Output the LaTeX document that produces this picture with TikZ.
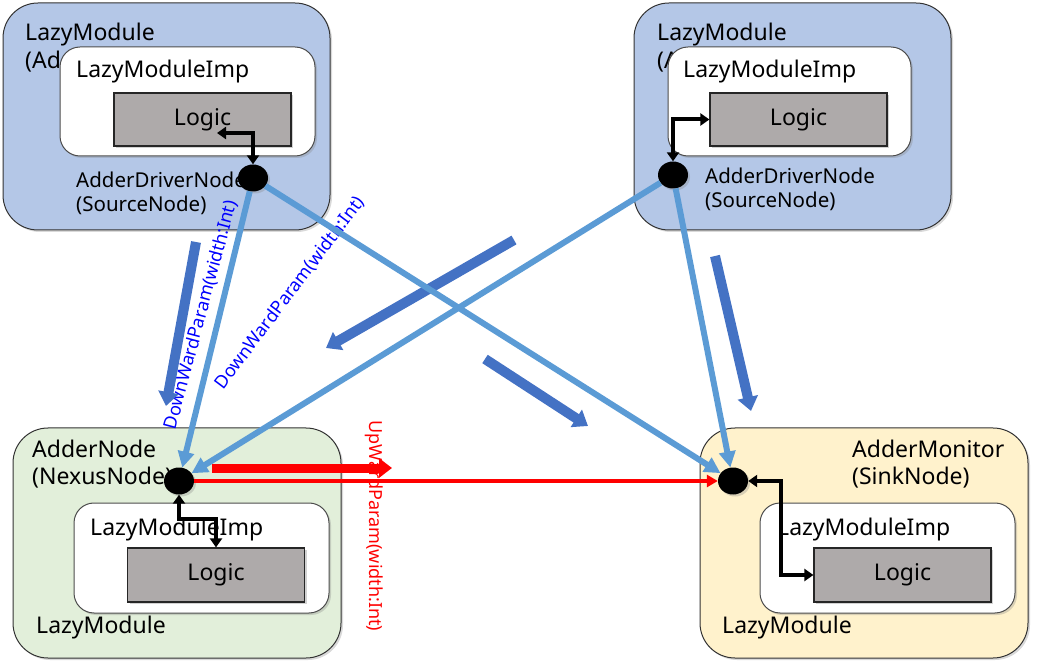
\documentclass[tikz,border=0pt]{standalone}
\usepackage{fontspec}
\setmainfont{Noto Sans}
\usetikzlibrary{arrows.meta,shadows,shapes.geometric}
\definecolor{topblue}{HTML}{B4C7E7}
\definecolor{nexgreen}{HTML}{E2EFDA}
\definecolor{sinkyellow}{HTML}{FFF2CC}
\definecolor{logicgray}{HTML}{AEAAAA}
\definecolor{linkblue}{HTML}{5B9BD5}
\definecolor{flowblue}{HTML}{4472C4}

\begin{document}
\begin{tikzpicture}[x=1pt,y=-1pt,
  module/.style={draw=black!80,line width=1pt,rounded corners=35pt,
    drop shadow={shadow xshift=2pt,shadow yshift=-2pt,opacity=.3}},
  impbox/.style={draw=black!70,fill=white,line width=1pt,rounded corners=20pt,
    drop shadow={shadow xshift=2pt,shadow yshift=-2pt,opacity=.3}},
  logicbox/.style={draw=black!85,fill=logicgray,line width=1.2pt,minimum width=177pt,
    minimum height=53pt,inner sep=0pt,font=\fontsize{23}{27}\selectfont,
    drop shadow={shadow xshift=2pt,shadow yshift=-2pt,opacity=.35}},
  port/.style={ellipse,fill=black,minimum width=30pt,minimum height=27pt,inner sep=0pt,
    drop shadow={shadow xshift=2pt,shadow yshift=-2pt,opacity=.3}},
  modtext/.style={font=\fontsize{23}{27}\selectfont,inner sep=0pt,anchor=base west},
  desctext/.style={font=\fontsize{20.5}{24}\selectfont,inner sep=0pt,anchor=base west},
  param/.style={font=\fontsize{18}{21}\selectfont,inner sep=0pt},
  link/.style={linkblue,line width=6pt,-{Triangle[width=16pt,length=16pt]}},
  ctl/.style={line width=4pt,{Triangle[width=12pt,length=9pt]}-{Triangle[width=12pt,length=9pt]}},
  flow/.style={flowblue,line width=10pt,-{Triangle[width=20pt,length=14pt]}}
]
\useasboundingbox (0,0) rectangle (1037,668);

\draw[module,fill=topblue] (3,3) rectangle (330,230);
\draw[module,fill=topblue] (634,3) rectangle (951,230);
\draw[module,fill=nexgreen] (13,428) rectangle (341,658);
\draw[module,fill=sinkyellow] (700,428) rectangle (1028,658);

\node[modtext] (tlm) at (25,41) {LazyModule};
\node[modtext] (tlmb) at (25,69) {(Ad};
\node[modtext] (trm) at (657,41) {LazyModule};
\node[modtext] (trmb) at (657,69) {(A};
\node[modtext] (blm) at (36,633) {LazyModule};
\node[modtext] (brm) at (722,633) {LazyModule};

\draw[impbox] (60,47) rectangle (315,156);
\draw[impbox] (668,47) rectangle (911,156);
\draw[impbox] (74,503) rectangle (329,613);
\draw[impbox] (760,503) rectangle (1015,613);

\node[modtext] (tli) at (76,78) {LazyModuleImp};
\node[modtext] (tri) at (683,78) {LazyModuleImp};
\node[modtext] (bli) at (90,535) {LazyModuleImp};
\node[modtext] (bri) at (777,535) {LazyModuleImp};

\node[logicbox] (tll) at (202.5,119.5) {Logic};
\node[logicbox] (trl) at (798.5,119.5) {Logic};
\node[logicbox,minimum height=54pt] (bll) at (216,575) {Logic};
\node[logicbox,minimum height=54pt] (brl) at (902.5,575) {Logic};

\node[desctext] (tld) at (76,188) {AdderDriverNode};
\node[desctext] (tlk) at (76,212) {(SourceNode)};
\node[desctext] (trd) at (705,184) {AdderDriverNode};
\node[desctext] (trk) at (705,208) {(SourceNode)};
\node[modtext] (bld) at (32,457) {AdderNode};
\node[modtext] (blk) at (32,485) {(NexusNode)};
\node[modtext] (brd) at (852,457) {AdderMonitor};
\node[modtext] (brk) at (852,485) {(SinkNode)};

\node[param,text=blue,rotate=75] (dwa) at (201,315) {DownWardParam(width:Int)};
\node[param,text=blue,rotate=53] (dwb) at (290,293) {DownWardParam(width:Int)};
\node[param,text=red,rotate=-90] (upa) at (374,526) {UpWardParam(width:Int)};

\draw[flow] (196,242) -- (166,406);
\draw[flow] (514,240) -- (326,348);
\draw[flow] (485,359) -- (588,426);
\draw[flow] (715,256) -- (751,411);

\node[port] (tlp) at (253,178) {};
\node[port] (trp) at (673,175) {};
\node[port] (blp) at (179,481) {};
\node[port] (brp) at (733,481) {};

\draw[link] (tlp) -- (blp);
\draw[link] (tlp) -- (brp);
\draw[link] (trp) -- (blp);
\draw[link] (trp) -- (brp);

\draw[red,line width=9pt,-{Triangle[width=19pt,length=13pt]}] (212,468) -- (392,468);
\draw[red,line width=3.5pt,-{Triangle[width=12pt,length=11pt]}] (blp) -- (brp);

\coordinate (tlin) at (217,133);
\coordinate (blc) at (216,519);
\coordinate (brc) at (781,481);
\draw[ctl] (tlin) -| (tlp);
\draw[ctl] (trp) |- (trl.west);
\draw[ctl] (blp) |- (blc) -- (blc |- bll.north);
\draw[ctl] (brp) -- (brc) |- (brl.west);
\end{tikzpicture}
\end{document}
